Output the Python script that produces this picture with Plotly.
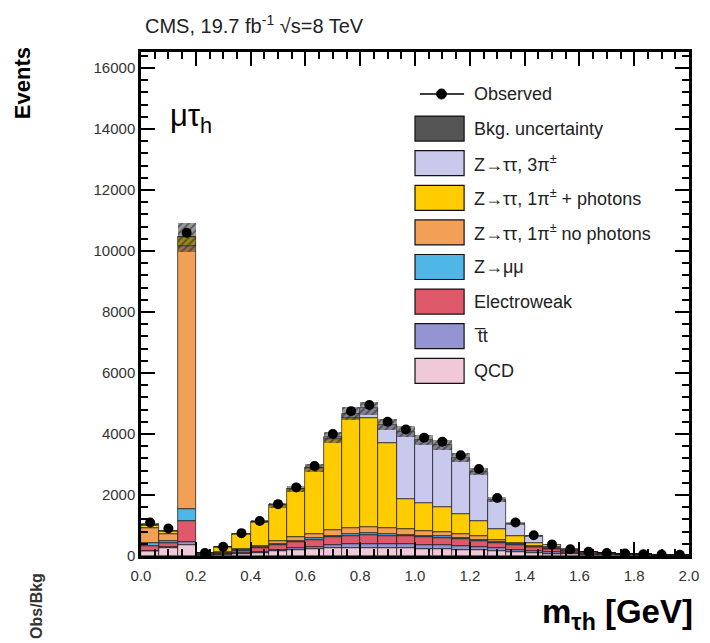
import numpy as np
import plotly.graph_objects as go

# ---- binning: 30 bins of visible tau_h mass between 0 and 2 GeV ----
bin_edges = np.linspace(0.0, 2.0, 31)

# ---- observed event counts per bin ----
observed = [1100, 900, 10600, 100, 300, 750, 1150, 1700, 2250, 2950,
            4000, 4750, 4950, 4400, 4150, 3880, 3750, 3300, 2850, 1900,
            1100, 680, 380, 220, 140, 100, 80, 60, 50, 40]

# ---- expected contributions per bin (stacked, bottom to top) ----
qcd = [150, 250, 350, 20, 40, 80, 110, 150, 190, 220,
       250, 260, 270, 260, 250, 240, 230, 210, 190, 160,
       130, 100, 70, 50, 35, 25, 20, 15, 12, 10]
ttbar = [30, 30, 100, 5, 10, 20, 30, 50, 70, 90,
         110, 120, 130, 130, 130, 120, 120, 110, 100, 90,
         80, 70, 60, 50, 40, 35, 30, 25, 20, 18]
electroweak = [150, 150, 700, 20, 40, 80, 120, 160, 200, 230,
               260, 280, 290, 280, 270, 260, 250, 230, 210, 180,
               150, 120, 90, 60, 40, 30, 25, 20, 15, 12]
zmumu = [100, 50, 400, 5, 10, 20, 20, 30, 30, 40,
         40, 50, 50, 50, 40, 40, 40, 30, 30, 20,
         20, 10, 10, 5, 5, 0, 0, 0, 0, 0]
ztt_1prong = [500, 250, 8600, 10, 20, 40, 60, 90, 120, 150,
              180, 200, 200, 190, 180, 170, 160, 140, 120, 90,
              60, 30, 20, 10, 5, 0, 0, 0, 0, 0]
ztt_1prong_photons = [100, 100, 300, 40, 170, 480, 780, 1180, 1600, 2150,
                      3000, 3600, 3600, 2800, 1000, 900, 800, 650, 500, 350,
                      200, 100, 40, 20, 10, 5, 0, 0, 0, 0]
ztt_3prong = [0, 0, 0, 0, 0, 0, 0, 0, 0, 20,
              50, 150, 300, 600, 2200, 2080, 2050, 1850, 1620, 950,
              420, 220, 80, 20, 5, 0, 0, 0, 0, 0]

# relative background uncertainty
bkg_rel_unc = 0.045

components = [
    ("QCD", qcd, "#f0c8d8"),
    ("t\u0305t", ttbar, "#9494d2"),
    ("Electroweak", electroweak, "#de5a6a"),
    ("Z\u2192\u03bc\u03bc", zmumu, "#4fb6e8"),
    ("Z\u2192\u03c4\u03c4, 1\u03c0<sup>\u00b1</sup> no photons", ztt_1prong, "#f2a055"),
    ("Z\u2192\u03c4\u03c4, 1\u03c0<sup>\u00b1</sup> + photons", ztt_1prong_photons, "#ffcc00"),
    ("Z\u2192\u03c4\u03c4, 3\u03c0<sup>\u00b1</sup>", ztt_3prong, "#c9c9ee"),
]

centers = 0.5 * (bin_edges[:-1] + bin_edges[1:])
width = bin_edges[1] - bin_edges[0]

fig = go.Figure()

# stacked histogram
base = np.zeros(len(centers))
for name, vals, color in components:
    vals = np.asarray(vals, dtype=float)
    fig.add_trace(go.Bar(
        x=centers, y=vals, base=base.copy(), width=width,
        marker=dict(color=color, line=dict(color="#111111", width=0.7)),
        name=name, showlegend=False, hoverinfo="skip",
    ))
    base = base + vals
total = base

# hatched background-uncertainty band
unc = bkg_rel_unc * total
fig.add_trace(go.Bar(
    x=centers, y=2 * unc, base=total - unc, width=width,
    marker=dict(color="rgba(70,70,70,0.55)",
                line=dict(width=0),
                pattern=dict(shape="/", fgcolor="#222222", size=5, solidity=0.4)),
    showlegend=False, hoverinfo="skip",
))

# observed data with statistical errors
obs = np.asarray(observed, dtype=float)
fig.add_trace(go.Scatter(
    x=centers, y=obs, mode="markers",
    marker=dict(symbol="circle", size=10, color="black"),
    error_y=dict(type="data", array=np.sqrt(obs), color="black", thickness=1.5, width=0),
    showlegend=False, hoverinfo="skip",
))

# ---- geometry of the plotting frame (pixels) ----
W, H = 710, 643
L, R, T, B = 141, 699, 52, 556


def px(xp):
    return (xp - L) / (R - L)


def py(yp):
    return (B - yp) / (B - T)


# ---- hand-drawn legend with large swatches ----
shapes = []
annotations = []
legend_rows = [("Observed", None)] + \
    [("Bkg. uncertainty", "#555555")] + \
    [(name, color) for name, _, color in reversed(components)]
row_y0, row_step = 94, 34.6
sw_x0, sw_x1, sw_h = 420, 470, 25
text_x = 478
for i, (label, color) in enumerate(legend_rows):
    yc = row_y0 + i * row_step
    if color is None:
        shapes.append(dict(type="line", xref="paper", yref="paper",
                           x0=px(425), x1=px(470), y0=py(yc), y1=py(yc),
                           line=dict(color="black", width=1.5)))
        shapes.append(dict(type="circle", xref="paper", yref="paper",
                           x0=px(442), x1=px(452), y0=py(yc + 5), y1=py(yc - 5),
                           fillcolor="black", line=dict(color="black", width=1)))
    else:
        shapes.append(dict(type="rect", xref="paper", yref="paper",
                           x0=px(sw_x0), x1=px(sw_x1),
                           y0=py(yc + sw_h / 2), y1=py(yc - sw_h / 2),
                           fillcolor=color, line=dict(color="#111111", width=1.2)))
    annotations.append(dict(x=px(text_x), y=py(yc), xref="paper", yref="paper",
                            text=label, showarrow=False, xanchor="left", yanchor="middle",
                            font=dict(family="Liberation Sans, Arial", size=18, color="#222222")))

# ---- texts ----
annotations += [
    dict(x=px(143), y=py(25), xref="paper", yref="paper",
         text="CMS, 19.7 fb<sup>-1</sup> \u221as=8 TeV", showarrow=False,
         xanchor="left", yanchor="middle",
         font=dict(family="Liberation Sans, Arial", size=20, color="#222222")),
    dict(x=px(168), y=py(118), xref="paper", yref="paper",
         text="\u03bc\u03c4<sub>h</sub>", showarrow=False,
         xanchor="left", yanchor="middle",
         font=dict(family="Liberation Sans, Arial", size=31, color="black")),
    dict(x=px(20), y=py(45), xref="paper", yref="paper",
         text="<b>Events</b>", showarrow=False, textangle=-90,
         xanchor="center", yanchor="top",
         font=dict(family="Liberation Sans, Arial", size=22, color="black")),
    dict(x=px(705), y=py(614), xref="paper", yref="paper",
         text="<b>m<sub>\u03c4h</sub> [GeV]</b>", showarrow=False,
         xanchor="right", yanchor="middle",
         font=dict(family="Liberation Sans, Arial", size=33, color="black")),
    dict(x=px(34), y=py(641), xref="paper", yref="paper",
         text="<b>Obs/Bkg</b>", showarrow=False, textangle=-90,
         xanchor="center", yanchor="bottom",
         font=dict(family="Liberation Sans, Arial", size=16, color="#333333")),
]

axis_font = dict(family="Liberation Sans, Arial", size=15, color="#333333")

fig.update_layout(
    width=W, height=H,
    margin=dict(l=L, r=W - R, t=T, b=H - B),
    paper_bgcolor="white", plot_bgcolor="white",
    barmode="overlay", bargap=0,
    showlegend=False,
    shapes=shapes, annotations=annotations,
    xaxis=dict(range=[0, 2.0], dtick=0.2, tick0=0, tickformat=".1f",
               ticks="inside", ticklen=14, tickwidth=1.5, tickcolor="black",
               minor=dict(dtick=0.05, ticks="inside", ticklen=7, tickcolor="black"),
               showline=True, linewidth=2.5, linecolor="black", mirror="allticks",
               showgrid=False, zeroline=False, tickfont=axis_font, ticklabelstandoff=4),
    yaxis=dict(range=[0, 16525], dtick=2000, tick0=0, tickformat="d",
               ticks="inside", ticklen=14, tickwidth=1.5, tickcolor="black",
               minor=dict(dtick=400, ticks="inside", ticklen=7, tickcolor="black"),
               showline=True, linewidth=2.5, linecolor="black", mirror="allticks",
               showgrid=False, zeroline=False, tickfont=axis_font),
)

fig.write_html("out.html")
